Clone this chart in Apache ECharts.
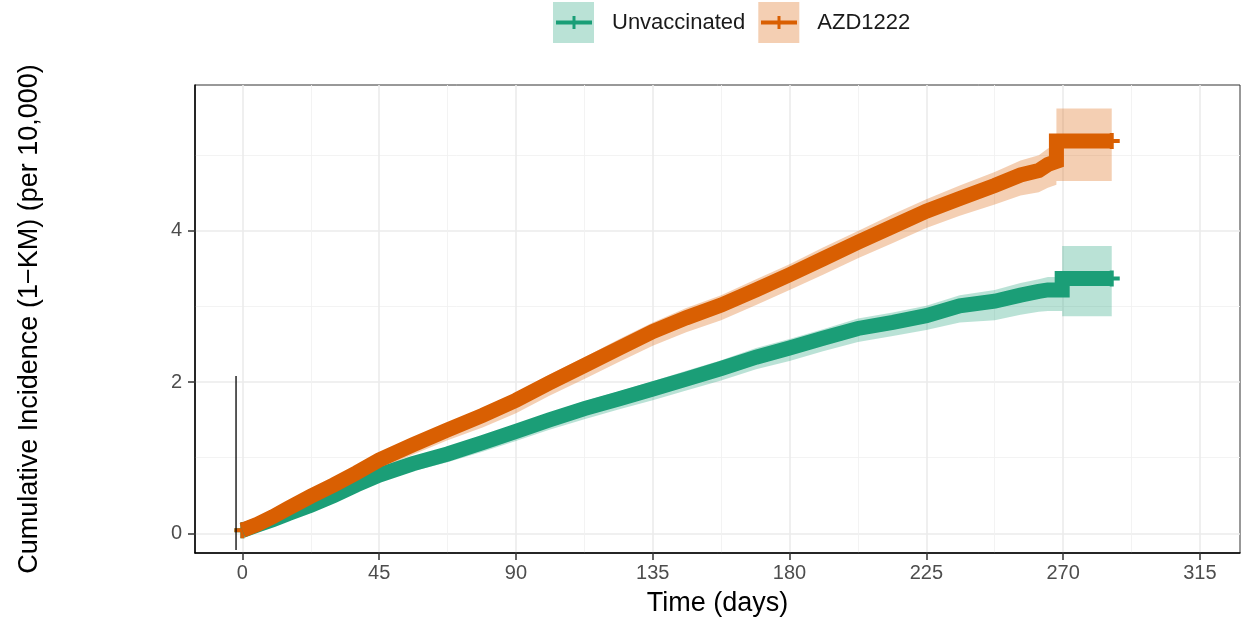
<!DOCTYPE html>
<html>
<head>
<meta charset="utf-8">
<script src="https://cdn.jsdelivr.net/npm/echarts@6/dist/echarts.min.js"></script>
<style>
  html, body { margin: 0; padding: 0; background: #fff; }
  #main { width: 1243px; height: 625px; }
</style>
</head>
<body>
<div id="main"></div>
<script>
// tick values
var xTicks = [0, 45, 90, 135, 180, 225, 270, 315];
var xMinor = [22.5, 67.5, 112.5, 157.5, 202.5, 247.5, 292.5];
var yTicks = [0, 2, 4];
var yMinor = [1, 3, 5];

// AZD1222 (1-KM, per 10,000) and its confidence band
var azdDays = [0, 5, 10, 15, 22.5, 30, 37.5, 45, 56, 67.5, 79, 90, 101, 112.5, 124, 135, 146, 157.5, 169, 180, 191, 202.5, 214, 225, 236, 247.5, 256, 262, 265, 267.8, 267.8, 286];
var azdRisk = [0.04, 0.12, 0.22, 0.33, 0.49, 0.64, 0.80, 0.97, 1.17, 1.37, 1.56, 1.76, 1.99, 2.22, 2.45, 2.67, 2.85, 3.02, 3.22, 3.42, 3.63, 3.85, 4.06, 4.26, 4.43, 4.60, 4.74, 4.80, 4.88, 4.92, 5.19, 5.19];
var azdLow = [0.02, 0.08, 0.17, 0.27, 0.41, 0.55, 0.69, 0.85, 1.04, 1.23, 1.40, 1.59, 1.82, 2.04, 2.27, 2.48, 2.66, 2.82, 3.02, 3.22, 3.42, 3.64, 3.84, 4.04, 4.20, 4.35, 4.47, 4.51, 4.57, 4.61, 4.66, 4.66];
var azdHigh = [0.06, 0.15, 0.26, 0.38, 0.55, 0.71, 0.87, 1.05, 1.26, 1.46, 1.66, 1.86, 2.10, 2.33, 2.57, 2.79, 2.98, 3.15, 3.36, 3.56, 3.78, 4.00, 4.22, 4.42, 4.60, 4.78, 4.93, 5.00, 5.09, 5.13, 5.62, 5.62];

// Unvaccinated
var unvDays = [0, 5, 10, 15, 22.5, 30, 37.5, 45, 56, 67.5, 79, 90, 101, 112.5, 124, 135, 146, 157.5, 169, 180, 191, 202.5, 214, 225, 236, 247.5, 256, 262, 265, 269.7, 269.7, 286];
var unvRisk = [0.04, 0.11, 0.18, 0.26, 0.37, 0.50, 0.64, 0.77, 0.92, 1.05, 1.20, 1.35, 1.50, 1.65, 1.78, 1.91, 2.04, 2.18, 2.33, 2.45, 2.58, 2.71, 2.79, 2.88, 3.01, 3.07, 3.15, 3.20, 3.22, 3.22, 3.37, 3.37];
var unvLow = [0.02, 0.08, 0.14, 0.21, 0.31, 0.43, 0.56, 0.68, 0.82, 0.94, 1.08, 1.22, 1.37, 1.51, 1.64, 1.76, 1.89, 2.02, 2.17, 2.28, 2.41, 2.53, 2.61, 2.69, 2.79, 2.82, 2.89, 2.93, 2.94, 2.94, 2.87, 2.87];
var unvHigh = [0.06, 0.14, 0.21, 0.30, 0.42, 0.55, 0.70, 0.84, 0.99, 1.13, 1.28, 1.44, 1.59, 1.75, 1.88, 2.01, 2.15, 2.29, 2.45, 2.57, 2.70, 2.84, 2.92, 3.01, 3.15, 3.22, 3.31, 3.36, 3.39, 3.39, 3.80, 3.80];

// stray vertical line near day 0
var refLine = [[-2.1, 2.08], [-2.1, -0.22]];

var green = '#1B9E77', orange = '#D95F02';
var greenBand = 'rgba(27,158,119,0.3)', orangeBand = 'rgba(217,95,2,0.3)';
var font = "'Liberation Sans', Arial, sans-serif";
var plus = 'path://M0,6H6V0H10V6H16V10H10V16H6V10H0Z';

function pairs(xs, ys) {
  return xs.map(function (x, i) { return [x, ys[i]]; });
}

function band(name, days, low, high, color) {
  return {
    name: name, type: 'custom', silent: true, clip: true,
    data: [[days[0], low[0]]],
    renderItem: function (params, api) {
      var pts = [];
      for (var i = 0; i < days.length; i++) pts.push(api.coord([days[i], high[i]]));
      for (var j = days.length - 1; j >= 0; j--) pts.push(api.coord([days[j], low[j]]));
      return { type: 'polygon', shape: { points: pts }, style: { fill: color } };
    }
  };
}

function curve(name, days, risk, color) {
  return {
    name: name, type: 'line', showSymbol: false, silent: true,
    data: pairs(days, risk),
    lineStyle: { width: 15, color: color, cap: 'butt', join: 'miter' },
    itemStyle: { color: color }
  };
}

function ends(name, days, risk, color) {
  var n = days.length - 1;
  return {
    name: name, type: 'scatter', silent: true, symbol: plus, symbolSize: 16,
    data: [[days[0], risk[0]], [days[n], risk[n]]],
    itemStyle: { color: color, opacity: 1 }
  };
}

var axisLine = { show: true, onZero: false, lineStyle: { color: '#000', width: 1.5 } };
var major = { show: true, lineStyle: { color: '#ebebeb', width: 1.6 } };
var minor = { show: true, lineStyle: { color: '#f2f2f2', width: 0.9 } };

var chart = echarts.init(document.getElementById('main'));
chart.setOption({
  animation: false,
  textStyle: { fontFamily: font },
  grid: { left: 195, right: 3, top: 85, bottom: 72, show: true, borderColor: '#333', borderWidth: 1 },
  legend: {
    left: 553, top: 2, padding: 0, itemWidth: 41, itemHeight: 41, itemGap: 13,
    selectedMode: false,
    textStyle: { fontSize: 22, color: '#1a1a1a', padding: [0, 0, 0, 13] },
    data: [
      { name: 'Unvaccinated', icon: 'rect', itemStyle: { color: greenBand } },
      { name: 'AZD1222', icon: 'rect', itemStyle: { color: orangeBand } }
    ]
  },
  xAxis: [{
    type: 'value', min: -15.6, max: 328.2,
    name: 'Time (days)', nameLocation: 'middle', nameGap: 37,
    nameTextStyle: { fontSize: 27, color: '#000' },
    axisLine: axisLine,
    axisTick: { show: true, customValues: xTicks, length: 7, lineStyle: { color: '#333', width: 1.5 } },
    axisLabel: { customValues: xTicks, fontSize: 20, color: '#4d4d4d', margin: 10 },
    splitLine: major
  }, {
    type: 'value', min: -15.6, max: 328.2,
    axisLine: { show: false }, axisLabel: { show: false },
    axisTick: { show: false, customValues: xMinor },
    splitLine: minor
  }],
  yAxis: [{
    type: 'value', min: -0.26, max: 5.93,
    name: 'Cumulative Incidence (1\u2212KM) (per 10,000)', nameLocation: 'middle', nameGap: 152,
    nameTextStyle: { fontSize: 27, color: '#000' },
    axisLine: axisLine,
    axisTick: { show: true, customValues: yTicks, length: 7, lineStyle: { color: '#333', width: 1.5 } },
    axisLabel: { customValues: yTicks, fontSize: 20, color: '#4d4d4d', margin: 13 },
    splitLine: major
  }, {
    type: 'value', min: -0.26, max: 5.93,
    axisLine: { show: false }, axisLabel: { show: false },
    axisTick: { show: false, customValues: yMinor },
    splitLine: minor
  }],
  series: [
    band('Unvaccinated', unvDays, unvLow, unvHigh, greenBand),
    band('AZD1222', azdDays, azdLow, azdHigh, orangeBand),
    curve('Unvaccinated', unvDays, unvRisk, green),
    ends('Unvaccinated', unvDays, unvRisk, green),
    curve('AZD1222', azdDays, azdRisk, orange),
    ends('AZD1222', azdDays, azdRisk, orange),
    {
      type: 'line', silent: true, showSymbol: false, data: refLine,
      lineStyle: { color: '#000', width: 1.3 }
    }
  ],
  graphic: [
    { type: 'rect', silent: true, shape: { x: 556, y: 20.5, width: 36, height: 4 }, style: { fill: green } },
    { type: 'rect', silent: true, shape: { x: 572.5, y: 16, width: 3, height: 13 }, style: { fill: green } },
    { type: 'rect', silent: true, shape: { x: 761, y: 20.5, width: 36, height: 4 }, style: { fill: orange } },
    { type: 'rect', silent: true, shape: { x: 777.5, y: 16, width: 3, height: 13 }, style: { fill: orange } }
  ]
});
</script>
</body>
</html>
